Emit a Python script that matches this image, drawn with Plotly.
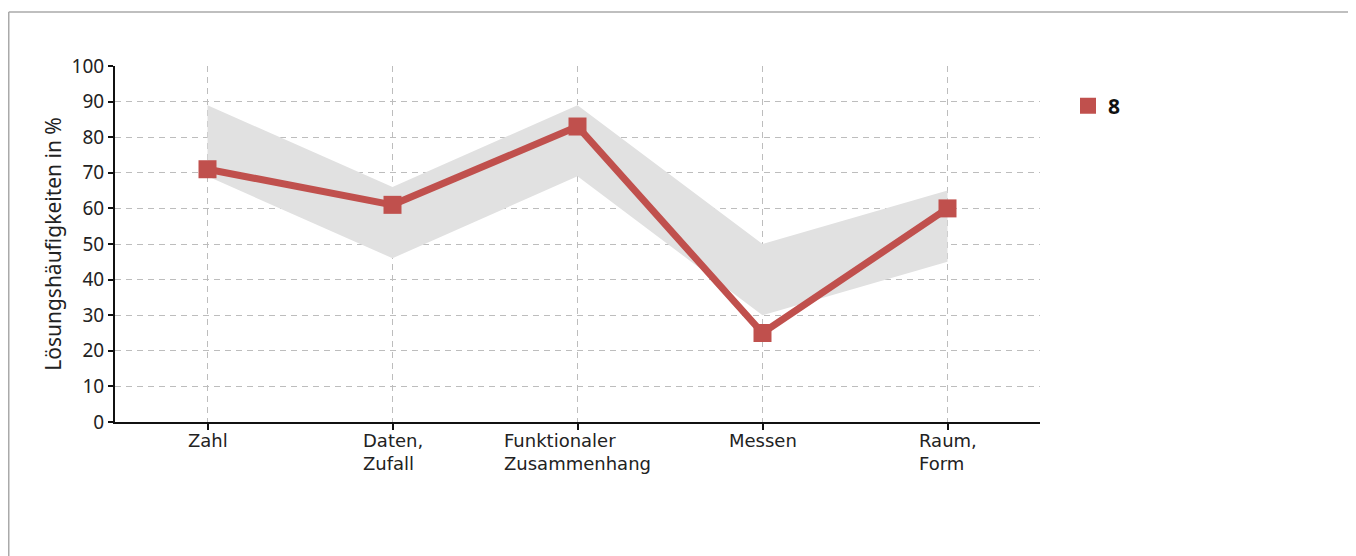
import plotly.graph_objects as go

categories = ["Zahl", "Daten,<br>Zufall", "Funktionaler<br>Zusammenhang", "Messen", "Raum,<br>Form"]
values = [71, 61, 83, 25, 60]
band_upper = [89, 66, 89, 50, 65]
band_lower = [69, 46, 69, 30, 45]
series_name = "8"
y_ticks = list(range(0, 101, 10))

xs = list(range(len(categories)))
red = "#c0504d"

L, T, PW, PH = 107, 58, 925, 356
W, H = 1348, 548

fig = go.Figure()
fig.add_trace(go.Scatter(x=xs, y=band_lower, mode="lines", line=dict(width=0, color="#e1e1e1"),
                         showlegend=False, hoverinfo="skip"))
fig.add_trace(go.Scatter(x=xs, y=band_upper, mode="lines", line=dict(width=0, color="#e1e1e1"),
                         fill="tonexty", fillcolor="#e1e1e1", showlegend=False, hoverinfo="skip"))
fig.add_trace(go.Scatter(x=xs, y=values, mode="lines+markers",
                         line=dict(color=red, width=7),
                         marker=dict(symbol="square", size=18, color=red),
                         showlegend=False))
fig.add_trace(go.Scatter(x=[None], y=[None], mode="markers", name=series_name,
                         marker=dict(symbol="square", size=18, color=red)))

for i, c in enumerate(categories):
    fig.add_annotation(x=i, y=0, xref="x", yref="y", text=c, showarrow=False, align="left",
                       xanchor="center", yanchor="top", yshift=-6,
                       font=dict(family="DejaVu Sans", size=18, color="#222"))

grid = dict(showgrid=True, gridcolor="#bdbdbd", griddash="6px,5px", gridwidth=1, zeroline=False)

fig.update_layout(
    width=W, height=H,
    margin=dict(l=L, r=W - L - PW, t=T, b=H - T - PH),
    paper_bgcolor="white", plot_bgcolor="white",
    font=dict(family="Noto Sans", size=16, color="#222"),
    xaxis=dict(range=[-0.5, 4.5], tickmode="array", tickvals=xs, ticktext=[""] * len(xs),
               showline=True, linecolor="#111", linewidth=2, ticks="outside", ticklen=6,
               tickcolor="#111", tickwidth=2, fixedrange=True, **grid),
    yaxis=dict(range=[0, 100], tickmode="array", tickvals=y_ticks,
               showline=True, linecolor="#111", linewidth=2, ticks="outside", ticklen=5,
               tickcolor="#111", tickwidth=2, **grid,
               tickfont=dict(family="Noto Sans", size=19, color="#222"),
               title=dict(text="Lösungshäufigkeiten in %", standoff=4,
                          font=dict(family="Noto Sans", size=21, color="#222"))),
    xaxis2=dict(range=[-0.5, 4.5], overlaying="x", side="bottom", anchor="y2",
                tickmode="array", tickvals=xs, ticktext=[""] * len(xs), showgrid=False,
                zeroline=False, showline=False, ticks="inside", ticklen=3, tickcolor="#111",
                tickwidth=2),
    yaxis2=dict(range=[0, 100], overlaying="y", side="left", anchor="x2",
                tickmode="array", tickvals=y_ticks, showticklabels=False, showgrid=False,
                zeroline=False, showline=False, ticks="inside", ticklen=4, tickcolor="#111",
                tickwidth=2),
    legend=dict(x=(1068 - 8 - L) / PW, y=(PH + T - 98) / PH, xanchor="left", yanchor="middle",
                font=dict(family="Noto Sans", size=21, color="#111", weight="bold"),
                bgcolor="rgba(0,0,0,0)"),
    shapes=[
        dict(type="line", xref="paper", yref="paper",
             x0=(-L + 0.75) / PW, x1=(W - L) / PW,
             y0=1 + (T - 4) / PH, y1=1 + (T - 4) / PH, line=dict(color="#aaaaaa", width=1.5),
             layer="below"),
        dict(type="line", xref="paper", yref="paper",
             x0=(-L + 0.75) / PW, x1=(-L + 0.75) / PW,
             y0=-(H - T - PH) / PH, y1=1 + (T - 4) / PH, line=dict(color="#aaaaaa", width=1.5),
             layer="below"),
    ],
)

fig.write_html("out.html")
